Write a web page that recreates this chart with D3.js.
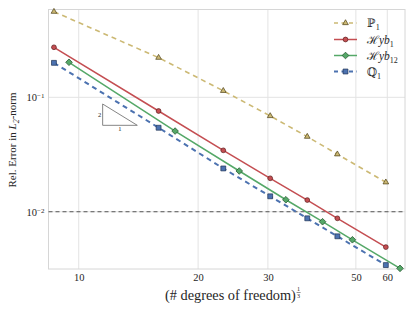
<!DOCTYPE html>
<html><head><meta charset="utf-8">
<script src="https://cdn.jsdelivr.net/npm/d3@7"></script>
<style>
html,body{margin:0;padding:0;background:#fff;}
svg{display:block;}
text{font-family:"Liberation Serif","DejaVu Serif",serif;fill:#262626;}
</style></head>
<body>
<svg id="c" width="415" height="312"></svg>
<script>
// ---- data ----
const xP1   = [8.66, 15.9, 23.15, 30.4, 37.7, 44.9, 59.5];
const yP1   = [0.560, 0.222, 0.114, 0.0687, 0.0453, 0.0318, 0.0181];
const xHyb1 = [8.66, 15.9, 23.15, 30.4, 37.7, 44.9, 59.5];
const yHyb1 = [0.2735, 0.0759, 0.0344, 0.0196, 0.01265, 0.00876, 0.00491];
const xHyb12= [9.45, 17.5, 25.4, 33.3, 41.2, 49.0, 64.6];
const yHyb12= [0.2023, 0.0507, 0.0227, 0.01273, 0.00818, 0.00569, 0.0032];
const xQ1   = [8.66, 15.9, 23.15, 30.4, 37.7, 44.9, 59.5];
const yQ1   = [0.200, 0.0542, 0.0239, 0.01364, 0.00876, 0.0061, 0.00342];
const xTicks = [10, 20, 30, 50, 60];
const yTicks = [0.1, 0.01];
const refLevel = 0.01;
const triX = [11.49, 11.49, 14.05];
const triY = [0.0874, 0.0569, 0.0569];

const L=48.5,R=405,T=9.5,B=269;
const svg=d3.select("#c");
const x=d3.scaleLog().domain([8.39,66.5]).range([L,R]);
const y=d3.scaleLog().domain([0.00316,0.585]).range([B,T]);

function fit(sel,target){
  const base=parseFloat(sel.style("font-size"));
  const w=sel.node().getComputedTextLength();
  sel.style("font-size",(base*target/w)+"px");
}

// grid
const g=svg.append("g");
g.selectAll(".vg").data(xTicks).enter().append("line")
 .attr("x1",d=>x(d)).attr("x2",d=>x(d)).attr("y1",T).attr("y2",B)
 .attr("stroke","#e3e3e3").attr("stroke-width",1);
g.selectAll(".hg").data(yTicks).enter().append("line")
 .attr("y1",d=>y(d)).attr("y2",d=>y(d)).attr("x1",L).attr("x2",R)
 .attr("stroke","#e3e3e3").attr("stroke-width",1);

// axes (tick labels)
const xa=svg.append("g").attr("transform",`translate(0,${B})`)
 .call(d3.axisBottom(x).tickValues(xTicks).tickFormat(d3.format("d")).tickSize(0).tickPadding(5));
xa.select(".domain").remove();
xa.selectAll("text").style("font-size","10.5px").attr("fill","#333");

const ya=svg.append("g").attr("transform",`translate(${L},0)`)
 .call(d3.axisLeft(y).tickValues(yTicks).tickSize(0).tickPadding(4).tickFormat(()=>""));
ya.select(".domain").remove();
ya.selectAll(".tick").each(function(d){
  const t=d3.select(this).select("text").text(null).attr("dy","0.35em").style("font-size","10.5px").attr("fill","#333");
  t.append("tspan").text("10");
  t.append("tspan").attr("dy","-0.45em").style("font-size","7px").text("\u2212"+Math.round(-Math.log10(d)));
});

// frame
svg.append("rect").attr("x",L).attr("y",T).attr("width",R-L).attr("height",B-T)
 .attr("fill","none").attr("stroke","#d6d6d6").attr("stroke-width",1);

// reference dashed line
svg.append("line").attr("x1",L).attr("x2",R).attr("y1",y(refLevel)).attr("y2",y(refLevel))
 .attr("stroke","#555").attr("stroke-width",1).attr("stroke-dasharray","4,3");

// slope triangle
const tri=triX.map((v,i)=>[x(v),y(triY[i])]);
svg.append("path").attr("d",d3.line()(tri)+"Z").attr("fill","none").attr("stroke","#777").attr("stroke-width",0.9);
svg.append("text").attr("x",tri[0][0]-1.5).attr("y",(tri[0][1]+tri[1][1])/2+2).attr("text-anchor","end").style("font-size","6.5px").text("2");
svg.append("text").attr("x",(tri[1][0]+tri[2][0])/2).attr("y",tri[1][1]+5.5).attr("text-anchor","middle").style("font-size","6.5px").text("1");

const series=[
 {xs:xP1,ys:yP1,color:"#ccb974",dash:"5,4",w:1.6,marker:"triangle",edge:"#4a3d12"},
 {xs:xHyb1,ys:yHyb1,color:"#c44e52",dash:null,w:1.5,marker:"circle",edge:"#5a1a1a"},
 {xs:xHyb12,ys:yHyb12,color:"#55a868",dash:null,w:1.5,marker:"diamond",edge:"#1f4f2a"},
 {xs:xQ1,ys:yQ1,color:"#4c72b0",dash:"5,4",w:2,marker:"square",edge:"#1f3455"}
];
const sym={triangle:[d3.symbol().type(d3.symbolTriangle).size(14),0],
 circle:[d3.symbol().type(d3.symbolCircle).size(18),0],
 diamond:[d3.symbol().type(d3.symbolSquare).size(22),45],
 square:[d3.symbol().type(d3.symbolSquare).size(24),0]};
const line=d3.line().x(d=>x(d[0])).y(d=>y(d[1]));
series.forEach(s=>{
  const pts=s.xs.map((v,i)=>[v,s.ys[i]]);
  svg.append("path").attr("d",line(pts)).attr("fill","none").attr("stroke",s.color)
   .attr("stroke-width",s.w).attr("stroke-dasharray",s.dash);
  const m=sym[s.marker];
  svg.selectAll(null).data(pts).enter().append("path")
   .attr("d",m[0]()).attr("transform",d=>`translate(${x(d[0])},${y(d[1])}) rotate(${m[1]})`)
   .attr("fill",s.color).attr("stroke",s.edge).attr("stroke-width",0.7);
});

// legend
const leg=svg.append("g");
const lx0=334,lx1=357,ly=[23,39.5,55.5,71.5];
series.forEach((s,i)=>{
  leg.append("line").attr("x1",lx0).attr("x2",lx1).attr("y1",ly[i]).attr("y2",ly[i])
   .attr("stroke",s.color).attr("stroke-width",s.w).attr("stroke-dasharray",s.dash?"4,3.5":null);
  const m=sym[s.marker];
  leg.append("path").attr("d",m[0]()).attr("transform",`translate(${(lx0+lx1)/2},${ly[i]}) rotate(${m[1]})`)
   .attr("fill",s.color).attr("stroke",s.edge).attr("stroke-width",0.7);
});
const labs=[["\u2119","1",false],["\u210Byb","1",true],["\u210Byb","12",true],["\u211A","1",false]];
labs.forEach((l,i)=>{
  const t=leg.append("text").attr("x",367).attr("y",ly[i]+4).style("font-size","11.5px");
  if(l[2]){
    t.append("tspan").text("\u210B");
    t.append("tspan").style("font-style","italic").text("yb");
  } else t.append("tspan").text(l[0]);
  t.append("tspan").attr("dy","3").style("font-size","8px").text(l[1]);
});

// y label
const yl=svg.append("text").attr("transform","translate(16,140) rotate(-90)").attr("text-anchor","middle").style("font-size","11px");
yl.append("tspan").text("Rel. Error in ");
yl.append("tspan").style("font-style","italic").text("L");
yl.append("tspan").attr("dy","3").style("font-size","8px").style("font-style","italic").text("2");
yl.append("tspan").attr("dy","-3").text("-norm");

// x label
const xl=svg.append("text").attr("x",165).attr("y",300).attr("text-anchor","start").style("font-size","12.5px")
 .text("(# degrees of freedom)");
fit(xl,131);
const bb=xl.node().getBBox();
const fx=bb.x+bb.width+2.5;
svg.append("text").attr("x",fx).attr("y",291).attr("text-anchor","middle").style("font-size","6px").text("1");
svg.append("line").attr("x1",fx-2).attr("x2",fx+2).attr("y1",292.5).attr("y2",292.5).attr("stroke","#222").attr("stroke-width",0.5);
svg.append("text").attr("x",fx).attr("y",298).attr("text-anchor","middle").style("font-size","6px").text("3");
</script>
</body></html>
